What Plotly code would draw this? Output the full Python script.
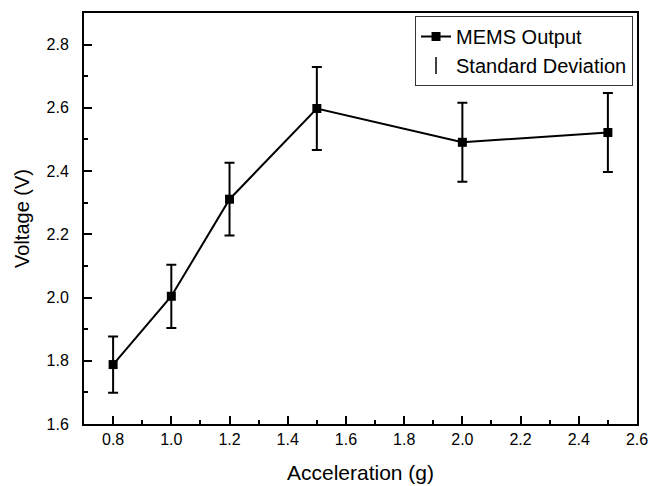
import plotly.graph_objects as go

acceleration = [0.8, 1.0, 1.2, 1.5, 2.0, 2.5]
voltage = [1.788, 2.004, 2.311, 2.598, 2.491, 2.522]
std_dev = [0.089, 0.100, 0.115, 0.131, 0.125, 0.125]

FONT = "Arial, Liberation Sans, sans-serif"

fig = go.Figure()
fig.add_trace(go.Scatter(
    x=acceleration, y=voltage, mode="lines+markers", name="MEMS Output",
    line=dict(color="black", width=2),
    marker=dict(symbol="square", size=9, color="black"),
    error_y=dict(type="data", array=std_dev, visible=True, color="black",
                 thickness=2, width=5),
))
fig.add_trace(go.Scatter(
    x=[None], y=[None], mode="markers", name="Standard Deviation",
    marker=dict(symbol="line-ns-open", size=12, color="black",
                line=dict(color="black", width=1.5)),
))

def axis_common(minor_tick0):
    return dict(
        showline=True, linecolor="black", linewidth=2, mirror=True,
        ticks="inside", ticklen=8, tickwidth=1.5, tickcolor="black",
        showgrid=False, zeroline=False, tickformat=".1f", automargin=False,
        tickfont=dict(family=FONT, size=16, color="black"),
        minor=dict(ticks="inside", ticklen=4, tickwidth=1.5, tickcolor="black",
                   dtick=0.1, tick0=minor_tick0),
    )

fig.update_layout(
    width=650, height=486,
    margin=dict(l=84, r=13, t=13, b=62, autoexpand=False),
    paper_bgcolor="white", plot_bgcolor="white",
    font=dict(family=FONT, color="black"),
    xaxis=dict(range=[0.7, 2.6], dtick=0.2, tick0=0.8,
               title=dict(text="Acceleration (g)", font=dict(family=FONT, size=21), standoff=18),
               ticklabelstandoff=0,
               **axis_common(0.7)),
    yaxis=dict(range=[1.6, 2.9], dtick=0.2, tick0=1.6,
               title=dict(text="Voltage (V)", font=dict(family=FONT, size=20), standoff=12),
               ticklabelstandoff=10,
               **axis_common(1.6)),
    legend=dict(x=0.9928, y=0.9927, xanchor="right", yanchor="top",
                bgcolor="white", bordercolor="#333333", borderwidth=1,
                font=dict(family=FONT, size=20, color="black"),
                tracegroupgap=0),
    showlegend=True,
)

fig.write_html("out.html", config={"displayModeBar": False},
               post_script="document.body.style.margin='0';")
